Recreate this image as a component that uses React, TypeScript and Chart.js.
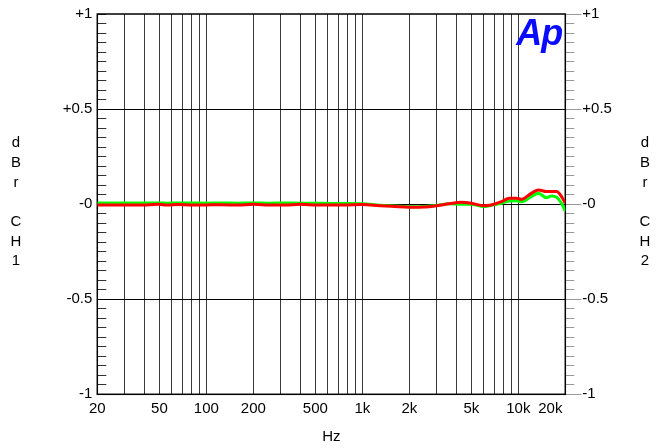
import { useEffect, useRef } from "react";
import { Chart, registerables } from "chart.js";

Chart.register(...registerables);

const FONT = "'Liberation Sans', Arial, sans-serif";

const freqs = [20, 25, 32, 40, 49, 56, 66, 80, 100, 125, 160, 200, 250, 320, 400, 500, 630, 800, 1000, 1300, 1600, 2000, 2500, 3000, 3600, 4300, 5000, 6000, 6700, 7800, 8750, 9700, 10500, 12100, 13500, 15100, 16300, 17600, 18900, 20000];
const ch1Red = [-0.004, -0.004, -0.005, -0.004, -0.001, -0.005, -0.002, -0.005, -0.004, -0.003, -0.005, -0.001, -0.004, -0.005, -0.001, -0.004, -0.005, -0.004, -0.002, -0.008, -0.012, -0.016, -0.015, -0.008, 0.002, 0.010, 0.005, -0.008, -0.004, 0.013, 0.031, 0.031, 0.026, 0.057, 0.075, 0.066, 0.066, 0.066, 0.040, 0.005];
const ch2Green = [0.006, 0.006, 0.006, 0.006, 0.006, 0.005, 0.006, 0.006, 0.005, 0.006, 0.005, 0.006, 0.005, 0.006, 0.005, 0.005, 0.004, 0.004, 0.002, -0.006, -0.010, -0.014, -0.013, -0.006, 0.002, 0.000, 0.000, -0.013, -0.006, 0.005, 0.017, 0.018, 0.013, 0.040, 0.057, 0.034, 0.043, 0.036, 0.005, -0.036];

const xLabelValues = [20, 50, 100, 200, 500, 1000, 2000, 5000, 10000, 20000];
const xLabelTexts = ["20", "50", "100", "200", "500", "1k", "2k", "5k", "10k", "20k\u2002\u2002\u2002\u2002"];
const xGridValues = [30, 40, 50, 60, 70, 80, 90, 100, 200, 300, 400, 500, 600, 700, 800, 900, 1000, 2000, 3000, 4000, 5000, 6000, 7000, 8000, 9000, 10000];

const yMajorValues = [-1, -0.5, 0, 0.5, 1];
const yMajorTexts = ["-1", "-0.5", "-0", "+0.5", "+1"];
const yMinorValues = [-1, -0.95, -0.9, -0.85, -0.8, -0.75, -0.7, -0.65, -0.6, -0.55, -0.5, -0.45, -0.4, -0.35, -0.3, -0.25, -0.2, -0.15, -0.1, -0.05, 0, 0.05, 0.1, 0.15, 0.2, 0.25, 0.3, 0.35, 0.4, 0.45, 0.5, 0.55, 0.6, 0.65, 0.7, 0.75, 0.8, 0.85, 0.9, 0.95, 1];

const leftTitleLetters = ["d", "B", "r", "", "C", "H", "1"];
const rightTitleLetters = ["d", "B", "r", "", "C", "H", "2"];
const xTitle = "Hz";
const logoText = "Ap";

const decorPlugin = {
  id: "apDecor",
  beforeDatasetsDraw(chart: any) {
    const { ctx, chartArea } = chart;
    ctx.save();
    ctx.strokeStyle = "#000";
    ctx.lineWidth = 1.5;
    ctx.strokeRect(chartArea.left, chartArea.top, chartArea.right - chartArea.left, chartArea.bottom - chartArea.top);
    ctx.restore();
  },
  afterDraw(chart: any) {
    const { ctx, chartArea, width } = chart;
    ctx.save();
    ctx.fillStyle = "#000";
    ctx.font = `15px ${FONT}`;
    ctx.textAlign = "center";
    ctx.textBaseline = "middle";
    const startY = 143;
    const step = 19.7;
    leftTitleLetters.forEach((ch, i) => {
      if (ch) ctx.fillText(ch, 16, startY + i * step);
    });
    rightTitleLetters.forEach((ch, i) => {
      if (ch) ctx.fillText(ch, width - 16, startY + i * step);
    });
    ctx.font = `italic bold 36px ${FONT}`;
    ctx.fillStyle = "#0a0aff";
    ctx.textAlign = "right";
    ctx.textBaseline = "alphabetic";
    try { (ctx as any).letterSpacing = "-1px"; } catch (e) {}
    ctx.fillText(logoText, chartArea.right - 3, chartArea.top + 31);
    ctx.restore();
  },
};

export default function App() {
  const ref = useRef<HTMLCanvasElement | null>(null);

  useEffect(() => {
    if (!ref.current) return;
    const font = { family: FONT, size: 15 };
    const chart = new Chart(ref.current, {
      type: "line",
      data: {
        datasets: [
          {
            label: "CH1",
            data: freqs.map((f, i) => ({ x: f, y: ch1Red[i] })),
            borderColor: "#ff0000",
            borderWidth: 3,
            pointRadius: 0,
            cubicInterpolationMode: "monotone",
            xAxisID: "x",
            yAxisID: "y",
          },
          {
            label: "CH2",
            data: freqs.map((f, i) => ({ x: f, y: ch2Green[i] })),
            borderColor: "#00ff00",
            borderWidth: 3,
            pointRadius: 0,
            cubicInterpolationMode: "monotone",
            xAxisID: "x",
            yAxisID: "y",
          },
        ],
      },
      options: {
        animation: false,
        responsive: false,
        events: [],
        layout: { padding: { top: 14, left: 0, right: 0, bottom: 0 } },
        plugins: { legend: { display: false }, tooltip: { enabled: false } },
        scales: {
          xg: {
            type: "logarithmic",
            position: "bottom",
            weight: 0,
            min: 20,
            max: 20000,
            afterBuildTicks: (s: any) => { s.ticks = xGridValues.map((v) => ({ value: v })); },
            ticks: { display: false, autoSkip: false },
            grid: { display: true, drawOnChartArea: true, drawTicks: false, color: "#3a3a3a", lineWidth: 1 },
            border: { display: false },
            afterFit: (s: any) => { s.height = 0; },
          },
          x: {
            type: "logarithmic",
            position: "bottom",
            weight: 1,
            min: 20,
            max: 20000,
            afterBuildTicks: (s: any) => { s.ticks = xLabelValues.map((v) => ({ value: v })); },
            ticks: {
              autoSkip: false,
              maxRotation: 0,
              padding: 6,
              color: "#000",
              font,
              callback: (_v: any, i: number) => xLabelTexts[i],
            },
            grid: { display: false, drawTicks: false },
            border: { display: false },
            title: { display: true, text: xTitle, color: "#000", font, padding: { top: 4, bottom: 2 } },
            afterFit: (s: any) => { s.height = 53.7; },
          },
          yMinL: {
            type: "linear",
            position: "left",
            weight: 0,
            min: -1,
            max: 1,
            afterBuildTicks: (s: any) => { s.ticks = yMinorValues.map((v) => ({ value: v })); },
            ticks: { display: false, autoSkip: false },
            grid: { display: true, drawOnChartArea: false, drawTicks: true, tickLength: -9, tickColor: "#333", tickWidth: 1 },
            border: { display: false },
            afterFit: (s: any) => { s.width = 0; },
          },
          y: {
            type: "linear",
            position: "left",
            weight: 1,
            min: -1,
            max: 1,
            afterBuildTicks: (s: any) => { s.ticks = yMajorValues.map((v) => ({ value: v })); },
            ticks: {
              autoSkip: false,
              padding: 5,
              color: "#000",
              font,
              callback: (_v: any, i: number) => yMajorTexts[i],
            },
            grid: {
              display: true,
              drawOnChartArea: true,
              drawTicks: false,
              lineWidth: 1,
              color: (ctx: any) => (ctx.tick && Math.abs(ctx.tick.value) < 0.99 ? "#000" : "rgba(0,0,0,0)"),
            },
            border: { display: false },
            afterFit: (s: any) => { s.width = 97.3; },
          },
          yMinR: {
            type: "linear",
            position: "right",
            weight: 0,
            min: -1,
            max: 1,
            afterBuildTicks: (s: any) => { s.ticks = yMinorValues.map((v) => ({ value: v })); },
            ticks: { display: false, autoSkip: false },
            grid: { display: true, drawOnChartArea: false, drawTicks: true, tickLength: 9, tickColor: "#999", tickWidth: 1 },
            border: { display: false },
            afterFit: (s: any) => { s.width = 0; },
          },
          y2: {
            type: "linear",
            position: "right",
            weight: 1,
            min: -1,
            max: 1,
            afterBuildTicks: (s: any) => { s.ticks = yMajorValues.map((v) => ({ value: v })); },
            ticks: {
              autoSkip: false,
              padding: 1,
              color: "#000",
              font,
              callback: (_v: any, i: number) => yMajorTexts[i],
            },
            grid: { display: true, drawOnChartArea: false, drawTicks: true, tickLength: 16, tickColor: "#999", tickWidth: 1 },
            border: { display: false },
            afterFit: (s: any) => { s.width = 95.7; },
          },
        },
      } as any,
      plugins: [decorPlugin],
    });
    return () => chart.destroy();
  }, []);

  return (
    <div style={{ position: "fixed", left: 0, top: 0, width: 661, height: 448, background: "#fff" }}>
      <canvas ref={ref} width={661} height={448} />
    </div>
  );
}
